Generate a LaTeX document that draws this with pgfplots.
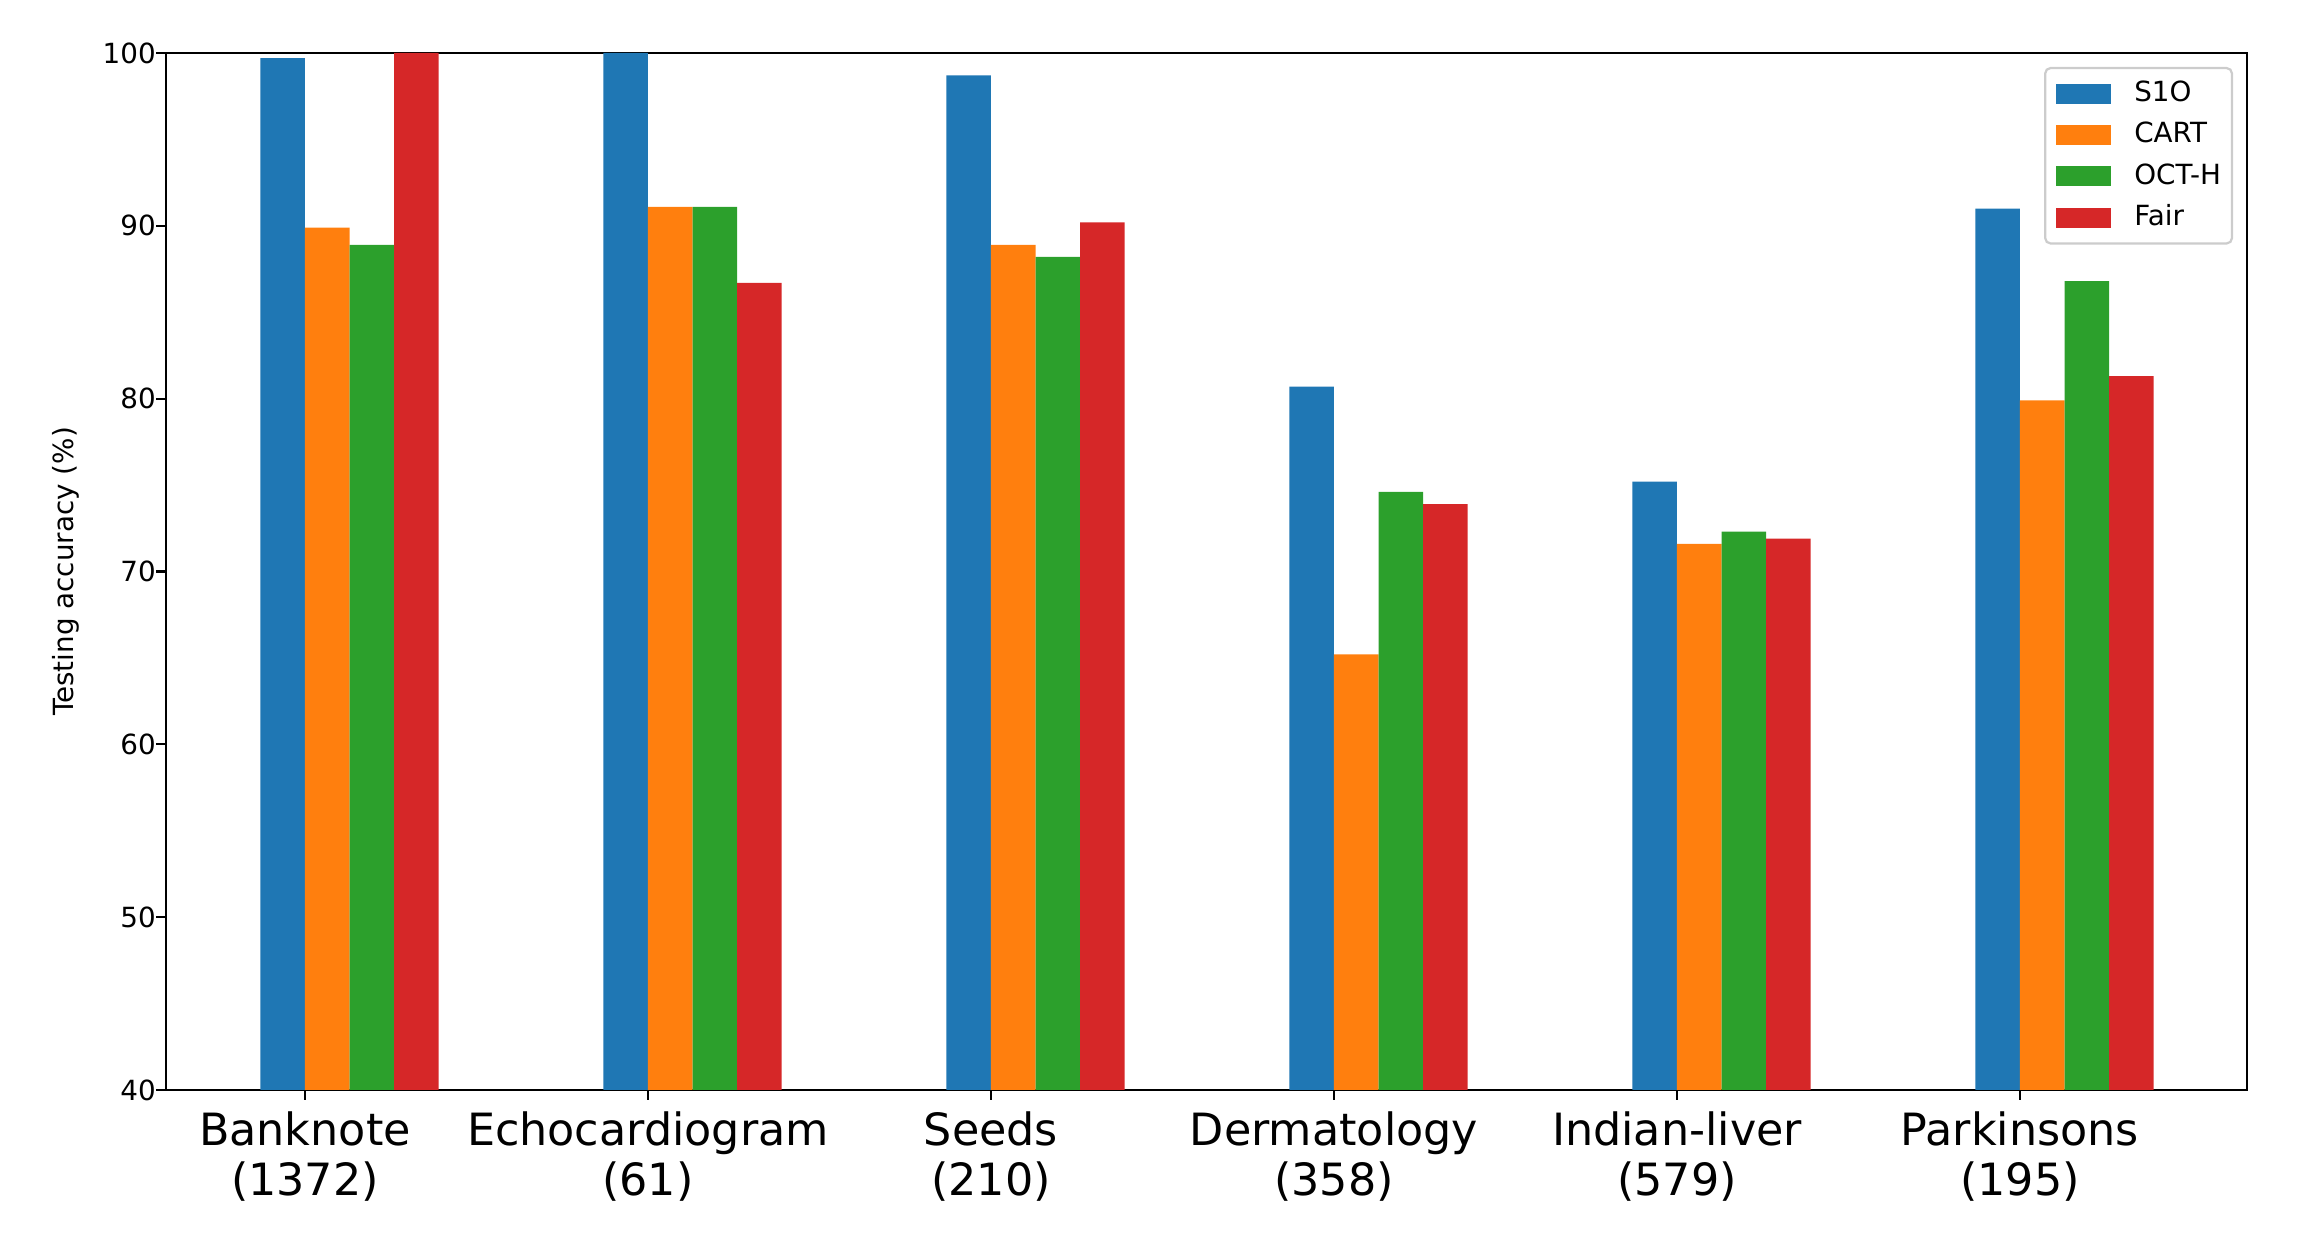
\documentclass[border=0pt]{standalone}
\usepackage{fontspec}
\setmainfont{DejaVu Sans}
\usepackage{pgfplots}
\pgfplotsset{compat=1.18}

\definecolor{cS}{HTML}{1F77B4}
\definecolor{cC}{HTML}{FF7F0E}
\definecolor{cO}{HTML}{2CA02C}
\definecolor{cF}{HTML}{D62728}

\begin{document}
\begin{tikzpicture}
\useasboundingbox (-59.76pt,-53.28pt) rectangle (776.16pt,392.4pt);
\begin{axis}[
  at={(0,0)}, anchor=south west,
  scale only axis, width=749.16pt, height=373.32pt,
  xmin=-0.405, xmax=5.662, ymin=40, ymax=100,
  ybar, bar width=0.13,
  xtick={0,1,2,3,4,5},
  xticklabels={{Banknote\\(1372)},{Echocardiogram\\(61)},{Seeds\\(210)},{Dermatology\\(358)},{Indian-liver\\(579)},{Parkinsons\\(195)}},
  ytick={40,50,...,100},
  tick align=outside, tick pos=left,
  major tick length=3.5pt,
  axis line style={line width=0.8pt},
  every tick/.style={line width=0.8pt, black},
  /pgf/number format/assume math mode=true,
  ticklabel style={font=\fontsize{10}{12}\selectfont},
  xticklabel style={font=\fontsize{16}{18}\selectfont, align=center, inner sep=0pt, yshift=-4.3pt},
  yticklabel style={inner sep=0pt, anchor=east},
  ylabel={Testing accuracy (\%)},
  ylabel style={at={(axis description cs:-0.0413,0.5)}, anchor=south, inner sep=0pt, font=\fontsize{10}{12}\selectfont},
  legend cell align=left,
  legend image code/.code={\fill[#1,draw=none,sharp corners] (0pt,-3.6pt) rectangle (19.8pt,3.6pt);},
  legend style={at={(axis description cs:1,1)}, anchor=north east, xshift=-5pt, yshift=-5pt,
    draw=black!20, line width=0.8pt, rounded corners=2pt, fill=white,
    font=\fontsize{10}{12}\selectfont, inner xsep=4pt, inner ysep=4.7pt,
    row sep=5.8pt, column sep=8.3pt,
    nodes={inner xsep=0pt, inner ysep=0pt, text height=7.3pt, text depth=1.8pt}},
]
\addplot[fill=cS, draw=none, bar shift=-0.065] coordinates {(0,99.7) (1,100) (2,98.7) (3,80.7) (4,75.2) (5,91.0)};
\addplot[fill=cC, draw=none, bar shift=0.065] coordinates {(0,89.9) (1,91.1) (2,88.9) (3,65.2) (4,71.6) (5,79.9)};
\addplot[fill=cO, draw=none, bar shift=0.195] coordinates {(0,88.9) (1,91.1) (2,88.2) (3,74.6) (4,72.3) (5,86.8)};
\addplot[fill=cF, draw=none, bar shift=0.325] coordinates {(0,100) (1,86.7) (2,90.2) (3,73.9) (4,71.9) (5,81.3)};
\legend{S1O,CART,OCT-H,Fair}
\end{axis}
\end{tikzpicture}
\end{document}
